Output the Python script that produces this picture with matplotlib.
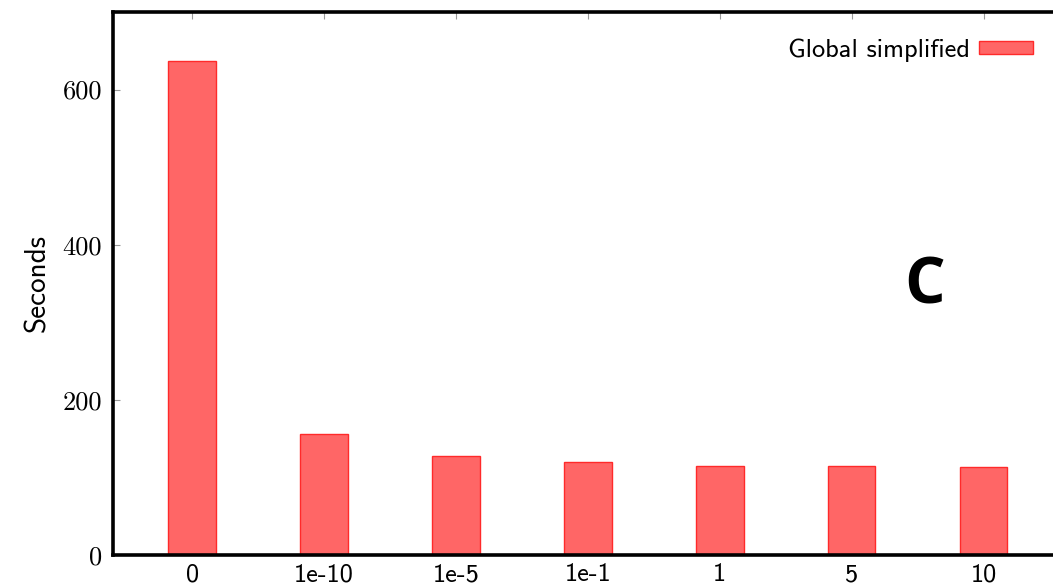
import os
import matplotlib
matplotlib.use("Agg")
import matplotlib.pyplot as plt
from matplotlib.font_manager import FontProperties

# Run-time for each tolerance setting
tolerances = ["0", "1e-10", "1e-5", "1e-1", "1", "5", "10"]
seconds = [637, 156, 127, 120, 115, 115, 113]
series_name = "Global simplified"
y_ticks = [0, 200, 400, 600]

ttf_dir = os.path.join(matplotlib.get_data_path(), "fonts", "ttf")
cmr = os.path.join(ttf_dir, "cmr10.ttf")
cmss = os.path.join(ttf_dir, "cmss10.ttf")
serif = FontProperties(fname=cmr, size=19)
sans = FontProperties(fname=cmss, size=19)
sans_label = FontProperties(fname=cmss, size=21)
sans_legend = FontProperties(fname=cmss, size=19)

fig = plt.figure(figsize=(10.53, 5.86), dpi=100)
ax = fig.add_axes([0.1073, 0.0529, 0.902, 0.9266])

x = list(range(len(tolerances)))
ax.bar(x, seconds, width=0.36, color="#ff6666", edgecolor="#ff2a2a",
       linewidth=1.0, label=series_name, zorder=2)

ax.set_xlim(-0.6, 6.6)
ax.set_ylim(0, 700)

ax.set_xticks(x)
ax.set_xticklabels(tolerances, fontproperties=sans)
ax.set_yticks(y_ticks)
ax.set_yticklabels([str(v) for v in y_ticks], fontproperties=serif)

ax.tick_params(axis="both", direction="in", length=5, width=0.8,
               color="#999999", top=True, right=False, pad=8)
ax.tick_params(axis="x", pad=6)

for side in ("left", "bottom", "top"):
    ax.spines[side].set_linewidth(2.6)
ax.spines["right"].set_visible(False)

ax.set_ylabel("Seconds", fontproperties=sans_label, labelpad=8)

leg = ax.legend(loc="upper right", bbox_to_anchor=(0.988, 0.985),
                frameon=False, markerfirst=False, prop=sans_legend,
                handlelength=2.05, handleheight=0.4, handletextpad=0.35,
                borderaxespad=0.3)

ax.text(0.855, 0.4936, "C", transform=ax.transAxes, fontsize=46,
        fontweight="bold", family="Open Sans", ha="center", va="center")

fig.savefig("out.png", dpi=100)
